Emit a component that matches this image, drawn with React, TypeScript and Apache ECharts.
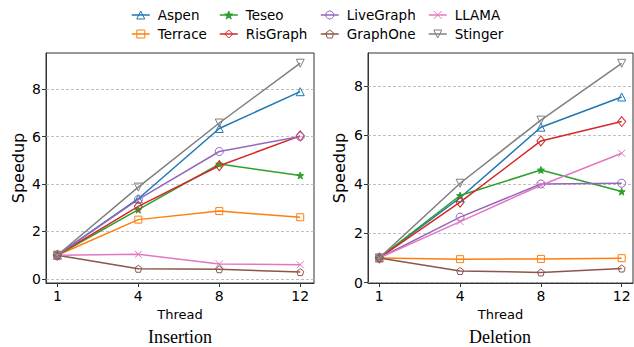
import React, { useEffect, useRef } from "react";
import * as echarts from "echarts";

const threads = ["1", "4", "8", "12"];
const seriesNames = ["Aspen", "Terrace", "Teseo", "RisGraph", "LiveGraph", "GraphOne", "LLAMA", "Stinger"];
const yTicks = [0, 2, 4, 6, 8];

// Insertion
const insAspen = [1, 3.38, 6.34, 7.89];
const insTerrace = [1, 2.5, 2.86, 2.6];
const insTeseo = [1, 2.92, 4.84, 4.36];
const insRisGraph = [1, 3.06, 4.77, 6.03];
const insLiveGraph = [1, 3.35, 5.37, 6.0];
const insGraphOne = [1, 0.43, 0.41, 0.29];
const insLLAMA = [1, 1.04, 0.63, 0.6];
const insStinger = [1, 3.87, 6.57, 9.09];

// Deletion
const delAspen = [1, 3.45, 6.32, 7.55];
const delTerrace = [1, 0.95, 0.96, 0.99];
const delTeseo = [1, 3.54, 4.58, 3.7];
const delRisGraph = [1, 3.27, 5.76, 6.55];
const delLiveGraph = [1, 2.66, 4.01, 4.04];
const delGraphOne = [1, 0.47, 0.41, 0.57];
const delLLAMA = [1, 2.48, 3.96, 5.26];
const delStinger = [1, 4.04, 6.61, 8.92];

const insData = [insAspen, insTerrace, insTeseo, insRisGraph, insLiveGraph, insGraphOne, insLLAMA, insStinger];
const delData = [delAspen, delTerrace, delTeseo, delRisGraph, delLiveGraph, delGraphOne, delLLAMA, delStinger];

const colors = ["#1f77b4", "#ff7f0e", "#2ca02c", "#d62728", "#9467bd", "#8c564b", "#e377c2", "#7f7f7f"];
const symbols = [
  "path://M5,0L10,9L0,9Z",
  "rect",
  "path://M5,0L6.18,3.38L9.76,3.45L6.9,5.62L7.94,9.05L5,7L2.06,9.05L3.1,5.62L0.24,3.45L3.82,3.38Z",
  "path://M5,0L10,7L5,14L0,7Z",
  "circle",
  "path://M5,0L9.76,3.45L7.94,9.05L2.06,9.05L0.24,3.45Z",
  "path://M0,0L10,10M10,0L0,10",
  "path://M0,0L10,0L5,9Z",
];
const symbolSizes = [8, 7, 7, [8, 10], 8, 7, 7, 8];
const filled = [false, false, true, false, false, false, false, false];

const FONT = "DejaVu Sans";

function makeSeries(data: number[][], gridIdx: number) {
  return data.map((vals, i) => ({
    name: seriesNames[i],
    type: "line",
    xAxisIndex: gridIdx,
    yAxisIndex: gridIdx,
    data: vals.map((v, j) => [j, v]),
    symbol: symbols[i],
    symbolSize: symbolSizes[i],
    symbolKeepAspect: false,
    showAllSymbol: true,
    z: 3,
    color: colors[i],
    lineStyle: { color: colors[i], width: 1.5 },
    itemStyle: {
      color: filled[i] ? colors[i] : "rgba(255,255,255,0)",
      borderColor: colors[i],
      borderWidth: 1,
    },
  }));
}

function gridLineSeries(gridIdx: number) {
  return {
    name: "__grid" + gridIdx,
    type: "line",
    xAxisIndex: gridIdx,
    yAxisIndex: gridIdx,
    data: [[0, 0]],
    showSymbol: false,
    lineStyle: { opacity: 0 },
    z: 1,
    silent: true,
    markLine: {
      silent: true,
      symbol: "none",
      z: 1,
      label: { show: false },
      lineStyle: { color: "#b0b0b0", type: [3, 2], width: 0.8 },
      data: yTicks.map((v) => ({ yAxis: v })),
    },
  };
}

function xAxis(gridIdx: number, min: number, max: number) {
  return {
    type: "value",
    gridIndex: gridIdx,
    min,
    max,
    name: "Thread",
    nameLocation: "middle",
    nameGap: 24,
    nameTextStyle: { fontFamily: FONT, fontSize: 13, color: "#000" },
    axisLine: { show: true, onZero: false, lineStyle: { color: "#333", width: 1 } },
    axisTick: { show: true, length: 4, customValues: [0, 1, 2, 3], lineStyle: { color: "#333" } },
    axisLabel: {
      customValues: [0, 1, 2, 3],
      formatter: (v: number) => threads[Math.round(v)],
      fontFamily: FONT,
      fontSize: 14,
      color: "#000",
      margin: 6,
    },
    splitLine: { show: false },
  };
}

function yAxis(gridIdx: number, min: number, max: number, nameGap: number) {
  return {
    type: "value",
    gridIndex: gridIdx,
    min,
    max,
    name: "Speedup",
    nameLocation: "middle",
    nameGap,
    nameTextStyle: { fontFamily: FONT, fontSize: 16, color: "#000" },
    axisLine: { show: true, onZero: false, lineStyle: { color: "#333", width: 1 } },
    axisTick: { show: true, length: 4, customValues: yTicks, lineStyle: { color: "#333" } },
    axisLabel: {
      customValues: yTicks,
      formatter: (v: number) => String(Math.round(v)),
      fontFamily: FONT,
      fontSize: 14,
      color: "#000",
      margin: 5,
    },
    splitLine: { show: false },
  };
}

function legend(names: string[], left: number) {
  return {
    data: names,
    orient: "vertical",
    left,
    top: 7,
    itemWidth: 18,
    itemHeight: 10,
    itemGap: 3,
    padding: 0,
    itemStyle: { borderWidth: 1 },
    lineStyle: { width: 1.5 },
    textStyle: { fontFamily: FONT, fontSize: 13.5, color: "#000", padding: [0, 0, 0, 3], lineHeight: 16 },
  };
}

export default function App() {
  const ref = useRef<HTMLDivElement>(null);
  useEffect(() => {
    if (!ref.current) return;
    const chart = echarts.init(ref.current, null, { renderer: "svg" });
    chart.setOption({
      animation: false,
      backgroundColor: "#fff",
      legend: [
        legend(["Aspen", "Terrace"], 131),
        legend(["Teseo", "RisGraph"], 219),
        legend(["LiveGraph", "GraphOne"], 320),
        legend(["LLAMA", "Stinger"], 428),
      ],
      grid: [
        { left: 46, top: 53, width: 268, height: 230, show: true, borderColor: "#333", borderWidth: 1, backgroundColor: "transparent" },
        { left: 368, top: 53, width: 265, height: 230, show: true, borderColor: "#333", borderWidth: 1, backgroundColor: "transparent" },
      ],
      xAxis: [xAxis(0, -0.14, 3.17), xAxis(1, -0.14, 3.14)],
      yAxis: [yAxis(0, -0.17, 9.52, 20), yAxis(1, -0.02, 9.34, 21)],
      graphic: [
        {
          type: "text",
          x: 180,
          y: 337,
          style: { text: "Insertion", font: "18px 'Liberation Serif'", fill: "#000", textAlign: "center", textVerticalAlign: "middle" },
        },
        {
          type: "text",
          x: 500,
          y: 337,
          style: { text: "Deletion", font: "18px 'Liberation Serif'", fill: "#000", textAlign: "center", textVerticalAlign: "middle" },
        },
      ],
      series: [gridLineSeries(0), gridLineSeries(1), ...makeSeries(insData, 0), ...makeSeries(delData, 1)],
    });
    return () => chart.dispose();
  }, []);
  return <div ref={ref} style={{ position: "fixed", left: 0, top: 0, width: 634, height: 347 }} />;
}
